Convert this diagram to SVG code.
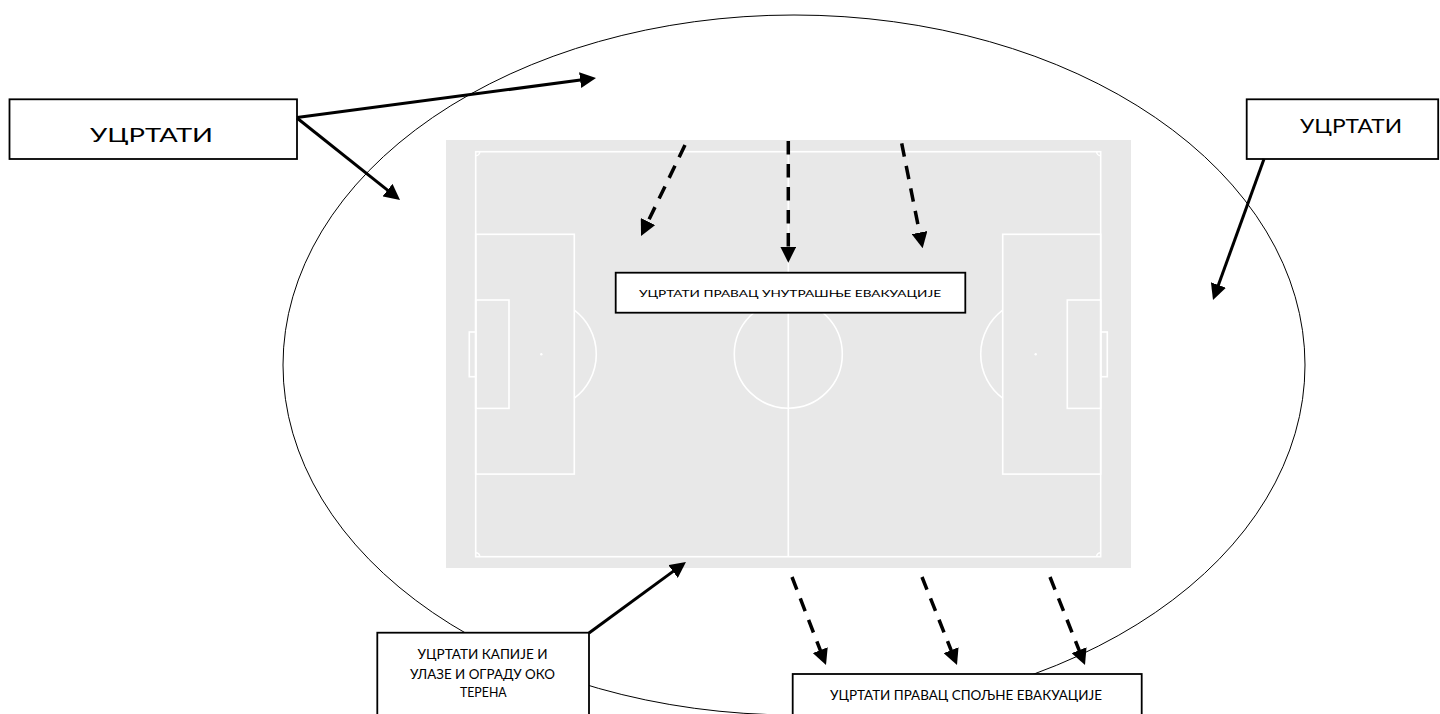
<svg xmlns="http://www.w3.org/2000/svg" width="1440" height="714" viewBox="0 0 1440 714">
<style>
.box{fill:#fff;stroke:#000;stroke-width:1.8}
.t{font-family:Lato,"Open Sans","Liberation Sans",sans-serif;fill:#000;text-anchor:middle}
.pl{fill:none;stroke:#fff;stroke-width:1.6}
.solid{fill:none;stroke:#000;stroke-width:3}
.dash{fill:none;stroke:#000;stroke-width:3.5;stroke-dasharray:13.5 9.5}
</style>
<defs>
<marker id="ah" viewBox="0 0 16 16" markerWidth="16" markerHeight="16" markerUnits="userSpaceOnUse" refX="6" refY="8" orient="auto">
<path d="M0,0 L16,8 L0,16 z" fill="#000"/>
</marker>
</defs>
<rect width="1440" height="714" fill="#fff"/>
<g id="boundary">
<ellipse cx="794" cy="365" rx="511" ry="350" fill="none" stroke="#000" stroke-width="1"/>
</g>
<g id="pitch">
<rect x="446" y="140" width="685" height="428" fill="#e8e8e8"/>
<rect class="pl" x="475.7" y="151.7" width="625" height="405"/>
<line class="pl" x1="788.3" y1="151.7" x2="788.3" y2="556.7"/>
<circle class="pl" cx="788.3" cy="354.2" r="54"/>
<rect class="pl" x="475.7" y="234.3" width="98.6" height="239.8"/>
<rect class="pl" x="475.7" y="300" width="33.3" height="108.4"/>
<rect class="pl" x="469.3" y="332" width="6.4" height="44.7"/>
<circle cx="541.3" cy="354.2" r="1.2" fill="#fff"/>
<path class="pl" d="M574.3,310.2 A55,55 0 0 1 574.3,398.2"/>
<rect class="pl" x="1002.7" y="234.3" width="98" height="239.8"/>
<rect class="pl" x="1067.3" y="300" width="33.4" height="108.4"/>
<rect class="pl" x="1100.7" y="332" width="6.6" height="44.7"/>
<circle cx="1035.7" cy="354.2" r="1.2" fill="#fff"/>
<path class="pl" d="M1002.7,310.2 A55,55 0 0 0 1002.7,398.2"/>
<path class="pl" d="M479.7,151.7 A4,4 0 0 1 475.7,155.7"/>
<path class="pl" d="M1096.7,151.7 A4,4 0 0 0 1100.7,155.7"/>
<path class="pl" d="M475.7,552.7 A4,4 0 0 1 479.7,556.7"/>
<path class="pl" d="M1100.7,552.7 A4,4 0 0 0 1096.7,556.7"/>
</g>
<g id="node-top-left">
<rect class="box" x="9.5" y="99.3" width="287.5" height="59.7"/>
<text class="t" x="151.5" y="141.7" font-size="19" textLength="123" lengthAdjust="spacingAndGlyphs">УЦРТАТИ</text>
</g>
<g id="node-top-right">
<rect class="box" x="1246.7" y="99.3" width="191.5" height="59.7"/>
<text class="t" x="1351" y="133" font-size="18.6" textLength="102" lengthAdjust="spacingAndGlyphs">УЦРТАТИ</text>
</g>
<g id="node-inner">
<rect class="box" x="615.7" y="272.7" width="349.6" height="40"/>
<text class="t" x="790" y="297" font-size="10.3" textLength="302" lengthAdjust="spacingAndGlyphs">УЦРТАТИ ПРАВАЦ УНУТРАШЊЕ ЕВАКУАЦИЈЕ</text>
</g>
<g id="node-gates">
<rect class="box" x="377.3" y="632.7" width="211.7" height="90"/>
<text class="t" x="482.5" y="659.3" font-size="13" textLength="130" lengthAdjust="spacingAndGlyphs">УЦРТАТИ КАПИЈЕ И</text>
<text class="t" x="482.5" y="679.3" font-size="13" textLength="145" lengthAdjust="spacingAndGlyphs">УЛАЗЕ И ОГРАДУ ОКО</text>
<text class="t" x="483.3" y="697.3" font-size="13" textLength="46.7" lengthAdjust="spacingAndGlyphs">ТЕРЕНА</text>
</g>
<g id="node-outer">
<rect class="box" x="792.7" y="674" width="349" height="60"/>
<text class="t" x="966" y="700" font-size="13" textLength="272" lengthAdjust="spacingAndGlyphs">УЦРТАТИ ПРАВАЦ СПОЉНЕ ЕВАКУАЦИЈЕ</text>
</g>
<g id="connectors">
<line class="solid" x1="297" y1="117.5" x2="586.1" y2="79.3" marker-end="url(#ah)"/>
<line class="solid" x1="297" y1="118" x2="392.2" y2="193.8" marker-end="url(#ah)"/>
<line class="solid" x1="1264" y1="159" x2="1216.4" y2="290.6" marker-end="url(#ah)"/>
<line class="solid" x1="589" y1="633" x2="677.9" y2="567.9" marker-end="url(#ah)"/>
<line class="dash" x1="685" y1="145" x2="645.4" y2="227" marker-end="url(#ah)"/>
<line class="dash" x1="788.3" y1="141" x2="788.3" y2="252.7" marker-end="url(#ah)"/>
<line class="dash" x1="901.7" y1="143.3" x2="920.7" y2="238.5" marker-end="url(#ah)"/>
<line class="dash" x1="792" y1="577" x2="822.4" y2="655.7" marker-end="url(#ah)"/>
<line class="dash" x1="922" y1="577" x2="953.3" y2="655.7" marker-end="url(#ah)"/>
<line class="dash" x1="1050" y1="577" x2="1081.3" y2="655.7" marker-end="url(#ah)"/>
</g>
</svg>
